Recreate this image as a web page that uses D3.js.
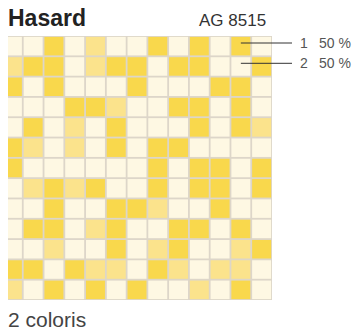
<!DOCTYPE html>
<html>
<head>
<meta charset="utf-8">
<script src="https://cdn.jsdelivr.net/npm/d3@7"></script>
<style>
  body { margin: 0; background: #fff; }
  svg { display: block; font-family: "Liberation Sans", Arial, sans-serif; }
</style>
</head>
<body>
<svg width="360" height="334"></svg>
<script>
// mosaic layout, 13 x 13 tiles: 0 = cream, 1 = light yellow, 2 = yellow
var tileRows = [
  [0,0,2,0,1,0,0,2,0,2,0,2,0],
  [1,2,2,0,1,2,2,0,2,2,0,0,2],
  [2,0,2,0,0,0,2,0,0,0,2,2,0],
  [0,0,0,2,2,1,0,0,2,2,0,2,0],
  [0,2,0,1,0,2,0,0,0,2,0,2,1],
  [2,1,0,1,0,2,0,2,2,0,0,0,0],
  [2,0,0,0,0,0,0,2,0,2,2,0,2],
  [0,1,2,1,2,0,0,2,0,2,2,0,2],
  [0,0,2,0,0,2,2,1,0,0,2,0,0],
  [0,2,2,0,1,2,0,0,2,2,0,2,0],
  [0,0,1,0,0,2,0,1,2,0,0,1,2],
  [2,2,0,2,1,1,0,2,1,0,1,1,0],
  [1,0,2,0,2,0,2,0,0,1,0,2,0]
]
var shadeCodes = [0,1,2]
var shadeColors = ['#fef8e3','#fbe38c','#f9d84c']

var legendIds = ['1','2']
var legendShares = [50,50]
var legendCells = [[11,0],[11,1]]   // tile each legend line points to (col,row)

var title = 'Hasard'
var ref = 'AG 8515'
var footer = '2 coloris'

var svg = d3.select("svg")

var cols = d3.range(tileRows[0].length)
var rows = d3.range(tileRows.length)

var x = d3.scaleBand().domain(cols).range([2, 272])
var y = d3.scaleBand().domain(rows).range([36, 300])
var color = d3.scaleOrdinal().domain(shadeCodes).range(shadeColors)

svg.append("clipPath").attr("id", "clip")
  .append("rect")
    .attr("x", 8).attr("y", 36)
    .attr("width", 272 - 8).attr("height", 300 - 36)

var g = svg.append("g").attr("clip-path", "url(#clip)")

// grout
g.append("rect")
  .attr("x", x.range()[0]).attr("y", y.range()[0])
  .attr("width", x.range()[1] - x.range()[0])
  .attr("height", y.range()[1] - y.range()[0])
  .attr("fill", "#ddd6c9")

var cells = []
tileRows.forEach(function(r, i) {
  r.forEach(function(v, j) { cells.push({row: i, col: j, v: v}) })
})

var inset = 0.9
g.selectAll("rect.tile")
  .data(cells)
  .enter().append("rect")
    .attr("class", "tile")
    .attr("x", function(d) { return x(d.col) + inset })
    .attr("y", function(d) { return y(d.row) + inset })
    .attr("width", x.bandwidth() - 2 * inset)
    .attr("height", y.bandwidth() - 2 * inset)
    .attr("fill", function(d) { return color(d.v) })

// legend lines
var leg = svg.append("g")
legendIds.forEach(function(id, i) {
  var c = legendCells[i]
  var ly = y(c[1]) + 7
  leg.append("line")
    .attr("x1", x(c[0]) + x.bandwidth() / 2).attr("x2", 292)
    .attr("y1", ly).attr("y2", ly)
    .attr("stroke", "#333").attr("stroke-width", 1)
  leg.append("text")
    .attr("x", 300).attr("y", ly + 5)
    .attr("font-size", 14).attr("fill", "#555")
    .text(id)
  leg.append("text")
    .attr("x", 319).attr("y", ly + 5)
    .attr("font-size", 14).attr("fill", "#555")
    .text(legendShares[i] + " %")
})

svg.append("text")
  .attr("x", 8).attr("y", 26)
  .attr("font-size", 23).attr("font-weight", "bold").attr("fill", "#222")
  .text(title)

svg.append("text")
  .attr("x", 199).attr("y", 26)
  .attr("font-size", 17).attr("fill", "#333")
  .text(ref)

svg.append("text")
  .attr("x", 8).attr("y", 327)
  .attr("font-size", 21).attr("fill", "#444")
  .text(footer)
</script>
</body>
</html>
